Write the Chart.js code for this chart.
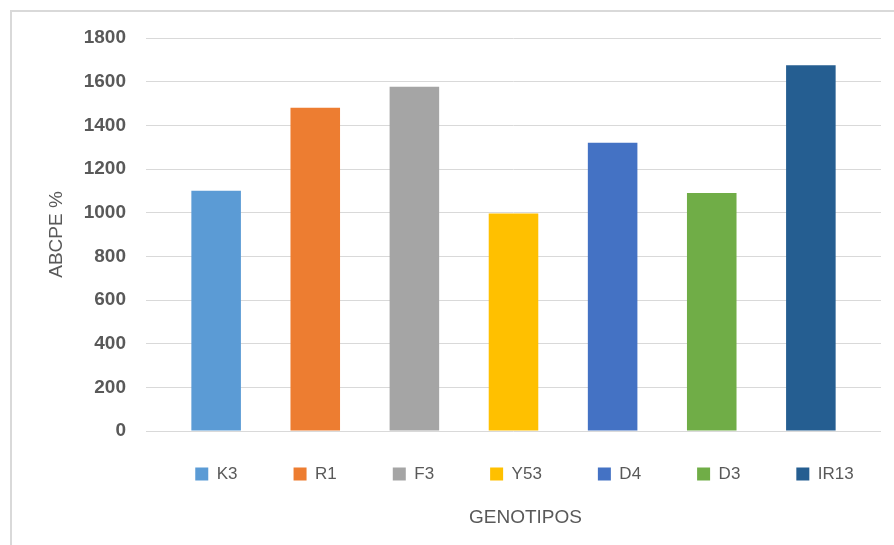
<!DOCTYPE html>
<html>
<head>
<meta charset="utf-8">
<title>ABCPE % por genotipo</title>
<script src="https://cdn.jsdelivr.net/npm/chart.js@4.4.0/dist/chart.umd.min.js"></script>
<style>
  html, body { margin: 0; padding: 0; background: #ffffff; }
  #wrap { position: relative; width: 894px; height: 545px; }
</style>
</head>
<body>
<div id="wrap"><canvas id="chart" width="894" height="545"></canvas></div>
<script>
// Genotypes and their ABCPE values
const genotypes = ['K3', 'R1', 'F3', 'Y53', 'D4', 'D3', 'IR13'];
const abcpe = [1100, 1480, 1577, 996, 1320, 1090, 1675];
const yAxisTitle = 'ABCPE %';
const xAxisTitle = 'GENOTIPOS';
const yMin = 0;
const yMax = 1800;
const yStep = 200;

// Office-style series colours
const palette = ['#5B9BD5', '#ED7D31', '#A5A5A5', '#FFC000', '#4472C4', '#70AD47', '#255E91'];

const FONT = "'Liberation Sans', Arial, sans-serif";
const TEXT = '#595959';

// Light frame round the chart, open at the right and bottom
const frame = {
  id: 'frame',
  beforeDraw(chart, args, opts) {
    const ctx = chart.ctx;
    ctx.save();
    ctx.strokeStyle = opts.color;
    ctx.lineWidth = opts.width;
    ctx.beginPath();
    ctx.moveTo(opts.x, chart.height);
    ctx.lineTo(opts.x, opts.y);
    ctx.lineTo(chart.width, opts.y);
    ctx.stroke();
    ctx.restore();
  }
};

// Offsets the bottom legend and title blocks after layout
const boxShift = {
  id: 'boxShift',
  afterLayout(chart, args, opts) {
    const targets = { legend: chart.legend, title: chart.titleBlock };
    for (const key of Object.keys(opts)) {
      const box = targets[key];
      const d = opts[key];
      if (!box || !d) continue;
      box.left += d.dx; box.right += d.dx;
      box.top += d.dy; box.bottom += d.dy;
    }
  }
};

new Chart(document.getElementById('chart'), {
  type: 'bar',
  data: {
    labels: [xAxisTitle],
    datasets: genotypes.map((g, i) => ({
      label: g,
      data: [abcpe[i]],
      backgroundColor: palette[i],
      borderWidth: 0,
      categoryPercentage: 0.944,
      barPercentage: 0.5
    }))
  },
  options: {
    responsive: false,
    devicePixelRatio: 1,
    animation: false,
    layout: { padding: { top: 38, right: 13, bottom: 8.2, left: 0 } },
    scales: {
      x: { display: false },
      y: {
        min: yMin,
        max: yMax,
        ticks: {
          stepSize: yStep,
          padding: 20,
          color: TEXT,
          font: { family: FONT, size: 19, weight: 'bold' },
          callback: (v) => String(v)
        },
        grid: { color: '#d9d9d9', lineWidth: 1, drawTicks: false },
        border: { display: false },
        title: {
          display: true,
          text: yAxisTitle,
          color: TEXT,
          font: { family: FONT, size: 19 },
          padding: { top: 45.6, bottom: 0 }
        },
        afterFit(scale) { scale.width = 146; }
      }
    },
    plugins: {
      legend: {
        position: 'bottom',
        labels: {
          boxWidth: 13,
          boxHeight: 13,
          padding: 56,
          color: TEXT,
          font: { family: FONT, size: 17 }
        }
      },
      title: {
        display: true,
        position: 'bottom',
        text: xAxisTitle,
        color: TEXT,
        font: { family: FONT, size: 19, weight: 'normal' },
        padding: 0
      },
      tooltip: { enabled: false },
      frame: { color: '#d9d9d9', width: 2, x: 11, y: 11 },
      boxShift: {
        legend: { dx: 84, dy: -21.5 },
        title: { dx: 85, dy: -7.4 }
      }
    }
  },
  plugins: [frame, boxShift]
});
</script>
</body>
</html>
